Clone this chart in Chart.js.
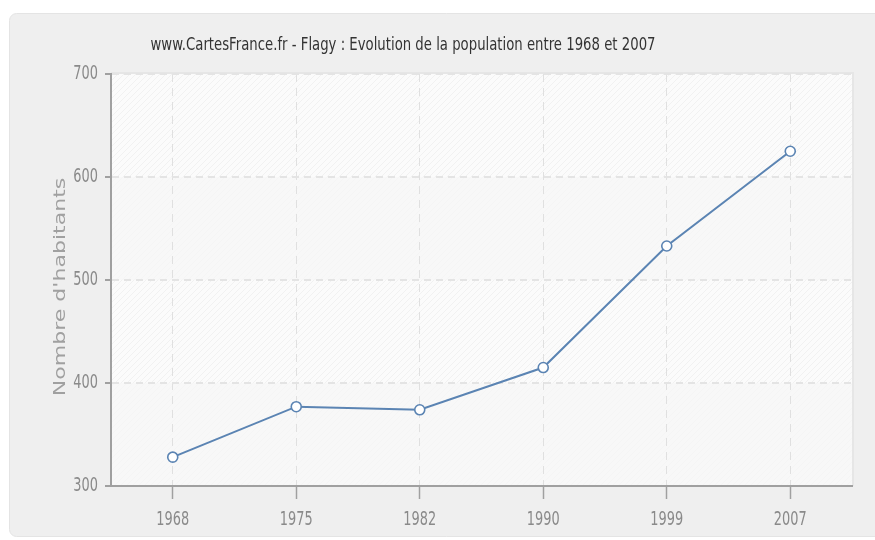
<!DOCTYPE html>
<html>
<head>
<meta charset="utf-8">
<script src="https://cdn.jsdelivr.net/npm/chart.js@4"></script>
<style>
  html, body { margin: 0; padding: 0; background: #ffffff; }
  #wrap { width: 875px; height: 540px; }
</style>
</head>
<body>
<div id="wrap"><canvas id="chart" width="875" height="540"></canvas></div>
<script>
// données
const years = ['1968', '1975', '1982', '1990', '1999', '2007'];
const population = [328, 377, 374, 415, 533, 625];
const yTicks = [300, 400, 500, 600, 700];
const titleText = 'www.CartesFrance.fr - Flagy : Evolution de la population entre 1968 et 2007';
const yTitle = "Nombre d'habitants";

const sans = '"DejaVu Sans", Verdana, sans-serif';
const squeeze = 0.68; // l'image d'origine est comprimée horizontalement

// texte comprimé horizontalement
function drawSqueezed(ctx, text, x, y, align) {
  ctx.save();
  ctx.translate(x, y);
  ctx.scale(squeeze, 1);
  ctx.textAlign = align;
  ctx.textBaseline = 'middle';
  ctx.fillText(text, 0, 0);
  ctx.restore();
}

// fond du panneau, bandes, hachures et titres
const backgroundPlugin = {
  id: 'panel',
  beforeDraw(chart) {
    const ctx = chart.ctx;
    const area = chart.chartArea;
    const y = chart.scales.y;
    ctx.save();
    ctx.fillStyle = '#efefef';
    ctx.strokeStyle = '#e4e4e4';
    ctx.lineWidth = 1;
    ctx.beginPath();
    ctx.roundRect(9.5, 13.5, 880, 523, 7);
    ctx.fill();
    ctx.stroke();

    // ombre légère autour de la zone
    ctx.fillStyle = '#e6e6e6';
    ctx.fillRect(area.left, area.top - 2, area.right - area.left + 2, area.bottom - area.top + 2);

    ctx.fillStyle = '#fbfbfb';
    ctx.fillRect(area.left, area.top, area.right - area.left, area.bottom - area.top);

    // hachures
    const p = document.createElement('canvas');
    p.width = 6; p.height = 6;
    const pc = p.getContext('2d');
    pc.strokeStyle = '#f1f1f1';
    pc.lineWidth = 1;
    pc.beginPath();
    pc.moveTo(0, 6); pc.lineTo(6, 0);
    pc.moveTo(-3, 3); pc.lineTo(3, -3);
    pc.moveTo(3, 9); pc.lineTo(9, 3);
    pc.stroke();
    ctx.fillStyle = ctx.createPattern(p, 'repeat');
    ctx.fillRect(area.left, area.top, area.right - area.left, area.bottom - area.top);

    // bandes grisées
    ctx.fillStyle = 'rgba(246,246,246,0.7)';
    [[500, 600], [300, 400]].forEach(b => {
      const top = y.getPixelForValue(b[1]);
      const bot = y.getPixelForValue(b[0]);
      ctx.fillRect(area.left, top, area.right - area.left, bot - top);
    });

    // titre, ajusté à la largeur de l'original
    ctx.fillStyle = '#333333';
    ctx.font = '18px ' + sans;
    const w = ctx.measureText(titleText).width;
    ctx.save();
    ctx.translate(403, 45);
    ctx.scale(505 / w, 1);
    ctx.textAlign = 'center';
    ctx.textBaseline = 'middle';
    ctx.fillText(titleText, 0, 0);
    ctx.restore();

    // titre de l'axe Y (étiré dans le sens du texte)
    ctx.translate(61, 287);
    ctx.rotate(-Math.PI / 2);
    ctx.scale(1 / squeeze, 1);
    ctx.fillStyle = '#a0a0a0';
    ctx.font = '15px ' + sans;
    ctx.textAlign = 'center';
    ctx.textBaseline = 'middle';
    ctx.fillText(yTitle, 0, 0);
    ctx.restore();
  },
  afterDraw(chart) {
    // étiquettes des axes, placées par les échelles
    const ctx = chart.ctx;
    const area = chart.chartArea;
    const xs = chart.scales.x;
    const ys = chart.scales.y;
    ctx.save();
    ctx.fillStyle = '#8a8a8a';
    ctx.font = '19px ' + sans;
    years.forEach((label, i) => {
      drawSqueezed(ctx, label, xs.getPixelForTick(i), area.bottom + 34, 'center');
    });
    yTicks.forEach(v => {
      drawSqueezed(ctx, String(v), area.left - 13, ys.getPixelForValue(v), 'right');
    });
    ctx.restore();
  }
};

new Chart(document.getElementById('chart'), {
  type: 'line',
  data: {
    labels: years,
    datasets: [{
      data: population,
      borderColor: '#5b84b3',
      borderWidth: 2,
      backgroundColor: '#ffffff',
      pointBackgroundColor: '#ffffff',
      pointBorderColor: '#5b84b3',
      pointBorderWidth: 1.6,
      pointRadius: 5,
      tension: 0,
      fill: false
    }]
  },
  plugins: [backgroundPlugin],
  options: {
    responsive: false,
    animation: false,
    devicePixelRatio: 1,
    layout: { padding: { top: 74, right: 23, left: 0, bottom: 0 } },
    plugins: {
      legend: { display: false },
      title: { display: false },
      tooltip: { enabled: false }
    },
    scales: {
      x: {
        offset: true,
        afterFit(scale) { scale.height = 54; },
        grid: {
          color: '#e0e0e0',
          lineWidth: 1,
          tickLength: 13,
          tickColor: '#a0a0a0',
          tickWidth: 1.5,
          offset: false
        },
        border: { color: '#a0a0a0', width: 2, dash: [8, 6] },
        ticks: { color: 'rgba(0,0,0,0)', font: { size: 12 } }
      },
      y: {
        min: 300,
        max: 700,
        afterFit(scale) { scale.width = 111; },
        afterBuildTicks(scale) { scale.ticks = yTicks.map(v => ({ value: v })); },
        grid: {
          color: '#e4e4e4',
          lineWidth: 2,
          tickLength: 6,
          tickColor: '#a0a0a0',
          tickWidth: 2
        },
        border: { color: '#a0a0a0', width: 2, dash: [7, 5] },
        ticks: { color: 'rgba(0,0,0,0)', font: { size: 12 } },
        title: { display: false }
      }
    }
  }
});
</script>
</body>
</html>
